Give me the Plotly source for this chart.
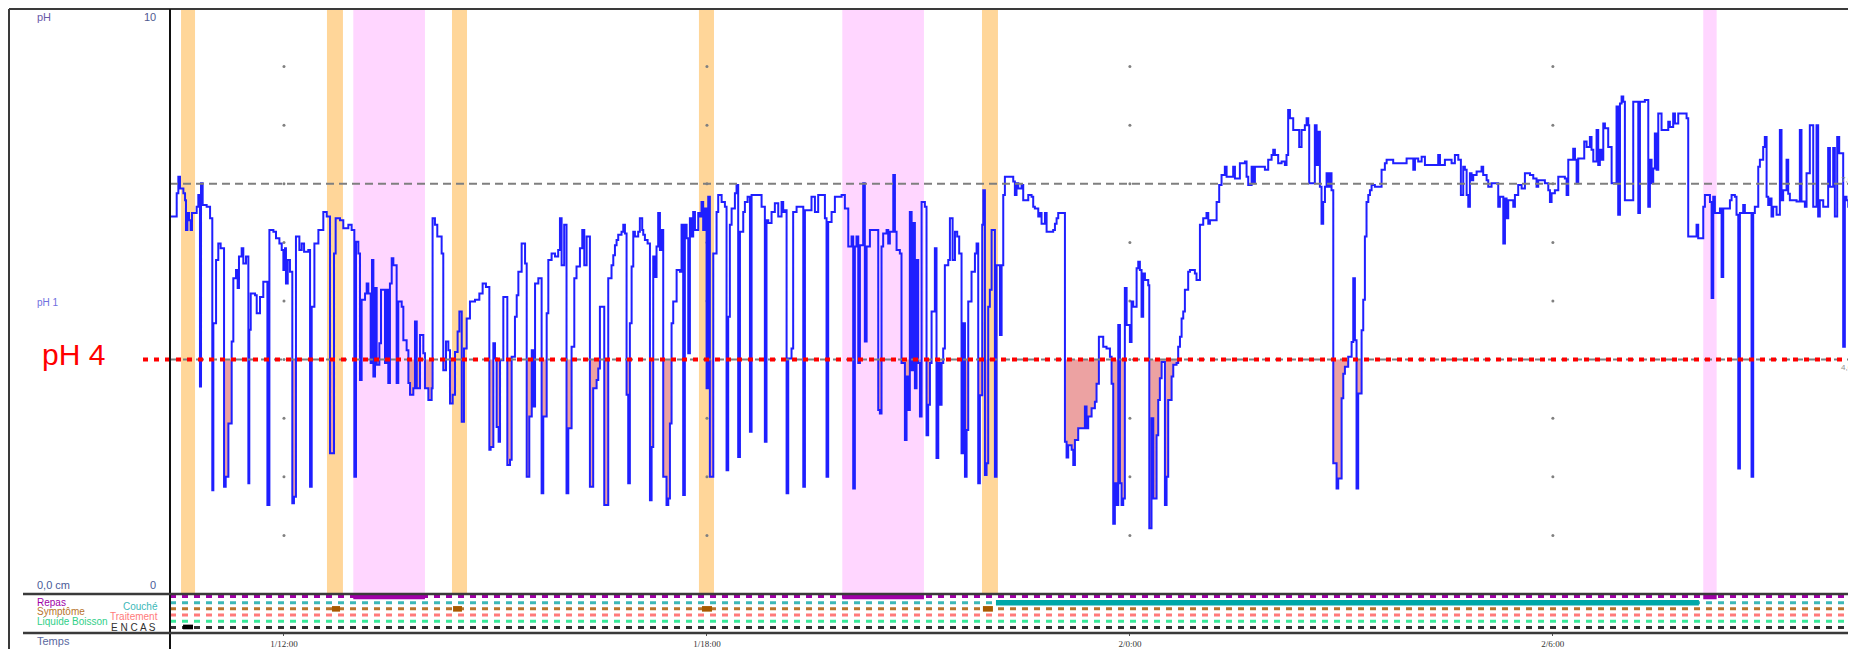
import plotly.graph_objects as go

W, H = 1856, 649
OFF = 8  # page body margin of the browser
FW, FH = W - OFF, H - OFF

# ---------------- DATA ----------------
# pH trace: (minutes after 1/10:00, pH value)
PH_SEG_A = [(23, 6.44), (28.7, 6.84), (30.1, 7.12), (31.5, 6.92), (34.4, 6.84), (35.8, 6.72), (36.6, 6.21),
            (37.8, 6.50), (39.2, 6.38), (40.6, 6.21), (41.7, 6.50), (45.7, 6.61), (47.1, 6.81), (48.5, 3.54),
            (49.4, 7.01), (50.8, 6.64), (54.2, 6.61), (57.1, 6.41), (59.0, 1.77), (59.9, 4.62), (62.2, 5.70),
            (64.1, 5.98), (66.1, 5.90), (69.0, 1.83), (70.4, 2.00), (72.7, 2.91), (75.5, 4.31), (76.9, 5.39),
            (79.2, 5.53), (80.6, 5.22), (81.7, 5.76), (84.0, 5.90), (85.4, 5.64), (87.7, 5.76), (89.7, 1.89),
            (90.5, 4.51), (91.7, 5.13), (95.4, 5.10), (96.8, 4.79), (99.6, 5.07), (102.4, 5.33), (105.9, 1.52),
            (107.6, 6.21), (111.0, 6.18), (113.2, 6.07), (116.1, 5.98), (118.1, 5.87), (119.5, 5.53), (120.9, 5.90),
            (121.7, 5.30), (123.2, 5.70), (125.1, 5.50), (127.1, 1.55), (128.5, 1.66), (130.2, 6.10), (133.1, 5.87),
            (135.1, 5.98), (137.1, 5.84), (140.7, 5.87), (142.2, 1.83), (143.6, 4.90), (145.9, 5.98), (149.3, 6.21),
            (153.5, 6.52), (156.4, 6.44), (159.2, 2.40), (162.6, 5.81), (164.0, 6.41), (167.7, 6.38), (170.5, 6.24),
            (174.8, 6.30), (177.6, 6.21), (179.9, 2.00), (181.3, 6.01), (183.3, 5.81), (184.7, 3.65), (186.1, 5.02),
            (189.0, 5.13), (190.4, 5.30), (191.8, 5.13), (193.8, 3.94), (194.9, 5.70), (196.1, 3.71), (197.5, 5.22),
            (198.9, 3.91), (201.2, 4.28), (202.6, 5.19), (206.0, 3.94), (207.4, 5.19), (208.8, 3.60), (210.2, 5.30),
            (211.7, 5.73), (213.1, 5.61), (215.9, 3.60), (217.3, 4.99), (220.2, 4.90), (221.6, 4.33), (224.4, 4.16),
            (225.9, 3.60), (227.3, 3.40), (230.1, 3.51), (231.5, 4.65), (233.0, 3.51), (235.8, 4.42), (238.6, 4.11),
            (240.0, 3.51), (242.9, 3.31), (245.7, 3.51), (246.5, 6.41), (248.5, 6.30), (250.5, 6.10), (254.2, 5.81),
            (255.6, 3.82), (257.9, 4.31), (259.9, 4.16), (261.3, 3.25), (263.6, 3.40), (265.6, 4.13), (267.8, 4.48),
            (269.3, 4.82), (271.3, 2.94), (273.2, 4.19), (275.5, 4.70), (278.3, 4.99), (282.6, 5.02), (286.3, 5.13),
            (289.1, 5.30), (291.9, 5.24), (294.8, 2.46), (295.9, 2.51), (298.2, 4.28), (299.6, 4.02), (301.0, 2.85),
            (302.7, 2.60), (303.9, 3.99), (306.7, 5.07), (310.1, 2.20), (312.4, 2.29), (313.8, 4.05), (316.6, 4.73),
            (318.1, 5.10), (319.5, 5.50), (322.3, 5.98), (325.2, 5.64), (326.6, 2.00), (328.8, 3.03), (330.9, 4.16),
            (332.3, 3.20), (333.7, 5.30), (336.5, 5.39), (339.3, 1.72), (340.7, 3.03), (343.6, 4.79), (345.0, 5.70),
            (347.8, 5.81), (350.7, 5.76)]

PH_SEG_B = [(353.4, 5.87), (354.9, 6.41), (356.3, 5.61), (358.5, 6.30), (360.5, 1.72), (362.0, 2.83), (364.8, 4.22),
            (367.1, 5.39), (369.0, 5.59), (371.9, 5.90), (373.9, 6.21), (375.6, 5.61), (377.6, 6.10), (380.4, 1.83),
            (383.2, 3.51), (386.1, 3.65), (387.5, 3.85), (388.9, 4.90), (392.6, 1.52), (396.0, 5.39), (398.8, 5.61),
            (400.3, 5.78), (401.7, 5.95), (403.1, 6.04), (404.5, 6.13), (407.3, 6.18), (408.8, 6.30), (410.2, 6.15),
            (411.6, 3.40), (413.0, 1.89), (414.4, 4.62), (415.9, 5.59), (417.3, 6.18), (418.7, 6.10), (421.5, 6.18),
            (422.9, 6.41), (424.9, 6.21), (425.8, 6.13), (427.2, 6.04), (429.5, 5.98), (431.5, 1.60), (432.9, 2.51),
            (434.3, 5.76), (435.7, 5.41), (437.1, 5.93), (438.5, 6.50), (440.0, 5.87), (441.4, 6.21), (442.8, 2.00),
            (445.6, 1.52), (447.1, 1.63), (448.5, 2.91), (449.9, 4.62), (451.3, 4.99), (454.2, 5.53), (457.0, 5.50),
            (458.4, 6.30), (459.8, 1.69), (461.2, 6.30), (462.7, 6.07), (464.1, 4.11), (465.5, 6.41), (466.9, 6.10),
            (468.3, 6.52), (469.8, 6.21), (472.6, 6.50), (474.0, 6.44), (475.4, 6.69), (476.8, 6.21), (478.3, 6.58),
            (479.7, 3.51), (481.1, 6.78), (482.5, 2.00), (485.4, 5.81), (488.2, 6.52), (489.6, 6.81), (492.5, 6.69),
            (495.3, 6.61), (496.7, 2.11), (498.1, 4.73), (499.5, 6.30), (501.0, 6.58), (503.8, 6.84), (505.2, 6.98),
            (506.6, 2.34), (508.1, 6.18), (510.9, 6.52), (512.3, 6.69), (514.6, 6.78), (516.6, 2.77), (518.0, 6.81),
            (526.5, 6.61), (529.3, 2.60), (530.7, 6.38), (532.2, 6.33), (535.0, 6.52), (537.8, 6.67), (540.7, 6.44),
            (543.5, 6.69), (544.9, 6.52), (546.4, 6.55), (547.8, 1.72), (549.2, 4.02), (552.0, 4.19), (553.4, 6.52),
            (556.3, 6.61), (562.0, 1.83), (563.4, 6.55), (569.0, 6.78), (571.9, 6.52), (574.7, 6.81), (580.4, 6.41),
            (581.8, 2.00), (583.2, 6.35), (586.1, 6.52), (588.9, 6.78), (594.6, 6.81), (597.4, 6.58), (600.3, 5.93),
            (603.1, 6.10), (604.5, 1.80), (605.9, 5.93), (607.3, 6.10), (608.8, 3.94), (610.2, 5.95), (613.0, 7.01),
            (614.4, 4.31), (615.9, 5.93), (618.7, 6.21), (625.8, 3.14), (627.2, 3.08), (628.6, 5.93), (630.0, 6.15),
            (632.9, 6.21), (634.3, 5.98), (635.7, 6.18), (638.6, 7.15), (640.0, 6.18), (641.4, 5.87), (644.2, 5.81),
            (645.6, 3.94), (648.5, 2.63), (649.9, 3.71), (651.3, 3.14), (652.7, 6.52), (654.2, 3.82), (655.6, 6.33),
            (657.0, 3.51), (658.4, 5.70), (659.8, 3.94), (661.3, 3.03), (662.7, 6.69), (665.5, 6.61), (666.9, 2.71),
            (668.3, 3.23), (669.8, 3.94), (671.2, 4.82), (674.0, 5.90), (675.4, 2.32), (676.9, 3.94), (678.3, 3.23),
            (679.7, 3.94), (681.1, 4.19), (682.5, 5.61), (685.4, 5.70)]

PH_SEG_C = [(686.8, 6.41), (689.1, 5.70), (691.1, 6.18), (693.0, 6.10), (694.7, 5.81), (696.7, 2.40), (698.1, 4.62),
            (699.6, 2.00), (701.0, 2.80), (702.4, 4.99), (705.2, 5.50), (708.1, 5.81), (709.5, 5.98), (710.9, 1.89),
            (712.3, 3.39), (714.3, 6.30), (715.2, 6.89), (716.6, 2.03), (718.0, 2.23), (719.4, 4.90), (720.8, 5.19),
            (722.3, 6.21), (725.1, 2.00), (726.5, 5.61), (729.4, 4.42), (730.8, 5.61), (732.2, 6.81), (733.6, 7.12),
            (740.7, 7.04), (742.1, 6.81), (743.5, 7.01), (745.0, 6.92), (747.8, 6.98), (749.2, 6.72), (753.5, 6.81),
            (756.3, 6.78), (757.7, 6.61), (759.1, 6.58), (762.0, 6.44), (763.4, 6.50), (764.8, 6.32), (767.7, 6.50),
            (769.1, 6.18), (774.7, 6.21), (776.2, 6.32), (777.6, 6.41), (779.0, 6.50), (784.7, 2.60), (786.1, 2.33),
            (787.5, 2.54), (790.4, 2.46), (791.8, 2.20), (793.2, 2.63), (796.0, 2.83), (801.7, 3.20), (803.1, 2.83),
            (804.5, 3.03), (807.4, 3.17), (810.2, 3.28), (811.6, 3.59), (813.6, 4.39), (817.3, 4.22), (820.1, 4.19),
            (823.0, 4.05), (824.4, 3.59), (825.8, 1.20), (827.2, 1.89), (828.6, 1.52), (830.1, 4.59), (831.5, 1.89),
            (832.9, 1.52), (834.3, 1.63), (835.7, 5.22), (837.2, 4.59), (840.0, 4.30), (841.4, 4.99), (842.8, 4.90),
            (845.7, 5.56), (847.1, 5.67), (848.5, 5.53), (849.9, 4.73), (851.3, 5.47), (852.8, 5.36), (855.6, 5.27),
            (856.5, 1.12), (858.4, 3.00), (859.9, 1.63), (862.7, 2.71), (864.1, 3.31), (865.5, 3.68), (867.0, 3.96),
            (869.8, 1.52), (871.2, 2.00), (872.6, 3.31), (875.5, 3.71), (876.9, 3.91), (879.7, 3.94), (881.1, 4.22),
            (882.6, 4.39), (884.0, 4.70), (885.4, 4.82), (886.8, 5.19), (889.6, 5.50), (891.1, 5.53), (895.3, 5.47),
            (896.7, 5.36), (899.6, 6.30), (902.4, 6.41), (905.2, 6.50), (906.7, 6.32), (908.1, 6.38), (913.8, 6.69),
            (916.0, 6.98), (918.0, 7.15), (920.8, 7.29), (922.3, 7.12), (927.9, 7.29), (929.4, 7.09), (933.6, 7.35),
            (937.9, 7.38), (939.3, 7.12), (940.7, 6.98), (943.6, 7.29), (945.0, 7.01), (946.4, 7.29), (954.9, 7.24),
            (957.7, 7.41), (960.6, 7.49), (962.0, 7.58), (963.4, 7.49), (966.2, 7.35), (969.1, 7.38), (971.9, 7.32),
            (973.3, 7.49), (974.7, 8.26), (976.2, 8.12), (979.0, 7.92), (984.1, 7.63), (986.1, 7.92), (988.9, 8.00),
            (990.4, 8.12), (991.8, 8.00), (992.6, 7.01), (997.4, 8.00), (998.9, 7.32), (1000.3, 7.89), (1001.7, 6.95),
            (1003.1, 6.32), (1004.5, 6.69), (1006.0, 6.95), (1007.4, 7.18), (1008.8, 6.95), (1010.2, 7.18),
            (1011.6, 6.89), (1013.1, 2.23), (1015.9, 1.80), (1017.3, 1.97), (1020.2, 3.34), (1021.6, 3.76),
            (1023.0, 3.88)]

PH_SEG_D = [(1025.8, 4.05), (1028.7, 4.30), (1030.1, 5.39), (1031.5, 4.33), (1032.9, 1.80), (1034.3, 3.42),
            (1037.2, 4.50), (1038.6, 5.02), (1040.0, 6.10), (1041.4, 6.69), (1042.9, 6.81), (1044.3, 6.89),
            (1045.7, 6.98), (1048.5, 6.95), (1054.2, 7.24), (1057.0, 7.35), (1058.5, 7.41), (1064.1, 7.35),
            (1075.5, 7.43), (1081.2, 7.24), (1082.6, 7.43), (1085.4, 7.38), (1088.3, 7.46), (1091.1, 7.32),
            (1102.4, 7.49), (1103.9, 7.32), (1108.1, 7.41), (1113.8, 7.35), (1116.6, 7.49), (1119.5, 7.41),
            (1121.7, 6.81), (1123.7, 7.29), (1125.1, 7.24), (1126.6, 6.81), (1128.0, 6.61), (1129.4, 7.18),
            (1130.8, 7.06), (1132.2, 7.15), (1135.1, 7.21), (1139.3, 7.29), (1140.7, 7.15), (1143.6, 7.06),
            (1145.0, 6.95), (1147.8, 7.01), (1153.5, 6.61), (1154.9, 6.78), (1157.8, 5.98), (1159.2, 6.75),
            (1160.6, 6.41), (1162.0, 6.72), (1166.3, 6.61), (1167.7, 6.81), (1170.5, 6.98), (1173.4, 6.92),
            (1176.2, 7.18), (1180.5, 7.15), (1183.3, 7.09), (1186.1, 6.95), (1187.5, 7.06), (1193.2, 7.01),
            (1196.1, 6.89), (1197.5, 6.69), (1198.9, 6.84), (1201.7, 6.89), (1204.6, 7.12), (1210.2, 7.09),
            (1211.7, 6.81), (1213.1, 7.41), (1217.3, 7.60), (1218.8, 7.41), (1220.2, 7.01), (1221.6, 7.43),
            (1226.7, 7.72), (1228.7, 7.63), (1231.5, 7.80), (1232.9, 7.58), (1234.4, 7.38), (1237.2, 7.92),
            (1238.6, 7.32), (1240.0, 7.58), (1241.4, 7.41), (1242.9, 8.03), (1244.3, 7.95), (1247.1, 7.63),
            (1250.0, 7.01), (1254.2, 8.32), (1255.6, 6.47), (1257.1, 8.37), (1258.5, 8.49), (1259.9, 8.40),
            (1261.3, 6.72), (1268.4, 8.40), (1272.7, 6.50), (1274.1, 8.40), (1278.3, 8.43), (1281.2, 6.61),
            (1282.6, 7.41), (1284.0, 7.01), (1285.4, 7.26), (1286.8, 7.86), (1288.3, 7.24), (1289.7, 8.20),
            (1292.5, 7.92), (1298.2, 8.06), (1299.6, 7.97), (1302.4, 8.20), (1303.9, 8.03), (1306.7, 8.20),
            (1313.8, 8.12), (1315.2, 6.10), (1322.3, 6.30), (1323.7, 6.07), (1328.0, 6.61), (1329.4, 6.81),
            (1333.7, 6.69), (1335.1, 5.05), (1336.5, 6.78), (1337.9, 6.50), (1342.2, 6.58), (1343.6, 5.41),
            (1345.0, 6.58), (1350.7, 6.72), (1352.1, 6.81), (1354.9, 6.78), (1356.3, 6.47), (1357.8, 2.14),
            (1359.2, 6.50), (1362.0, 6.64)]

PH_SEG_E = [(1363.4, 6.50), (1369.1, 2.00), (1370.5, 6.50), (1371.9, 6.61), (1374.8, 7.29), (1376.2, 7.41),
            (1379.0, 7.63), (1380.4, 7.80), (1381.9, 6.78), (1383.3, 6.64), (1384.7, 6.75), (1386.1, 6.44),
            (1387.5, 6.61), (1390.4, 6.47), (1393.2, 7.92), (1394.6, 6.72), (1396.0, 6.89), (1398.9, 7.41),
            (1400.3, 6.83), (1401.7, 6.72), (1407.4, 6.70), (1410.2, 7.92), (1411.6, 6.70), (1414.5, 6.61),
            (1415.9, 7.18), (1418.7, 8.00), (1421.6, 6.61), (1424.4, 8.00), (1425.8, 6.44), (1427.2, 6.72),
            (1430.1, 6.61), (1434.3, 7.61), (1435.8, 6.95), (1438.6, 7.61), (1440.0, 6.44), (1442.0, 7.80),
            (1443.7, 7.52), (1447.1, 4.22), (1448.5, 6.78), (1449.9, 6.72), (1451.4, 6.61), (1452.8, 6.67),
            (1455.6, 6.72), (1458.0, 6.78)]

TIME_RANGE = [23, 1458]                      # minutes after 1/10:00
TICK_MIN = [120, 480, 840, 1200]
TICK_TEXT = ["1/12:00", "1/18:00", "2/0:00", "2/6:00"]
GRID_PH = [1, 2, 3, 4, 5, 6, 7, 8, 9]
PH_MAX = 10
PH_ACID = 4
PH_REF = 7

SYMPTOM_BANDS = [(32.4, 44.3), (156.6, 170.2), (263.0, 275.8), (473.2, 486.0), (714.1, 727.7)]
MEAL_BANDS = [(179.0, 240.0), (595.2, 664.7), (1328.0, 1339.4)]
SUPINE_PERIODS = [(726.0, 1324.3)]
SYMPTOM_MARKS = [(160.9, 167.7), (263.9, 271.5), (475.8, 484.3), (714.9, 723.4)]
SNACK_MARKS = [(34.1, 42.6)]

EVENT_ROWS = ["Repas", "Couché", "Symptôme", "Traitement", "Liquide Boisson", "ENCAS"]
ROW_COLORS = ["#a000a8", "#3cb8b8", "#b8742c", "#ff7a7a", "#38e898", "#303030"]

# ---------------- FIGURE ----------------
trace = PH_SEG_A + PH_SEG_B + PH_SEG_C + PH_SEG_D + PH_SEG_E
T = [p[0] for p in trace]
PH = [p[1] for p in trace]
PH_LOW = [min(v, PH_ACID) for v in PH]


def px(x):
    return (x - OFF) / FW


def py(y):
    return 1 - (y - OFF) / FH


fig = go.Figure()

# acid-exposure fill (between pH 4 and trace when below 4)
fig.add_trace(go.Scatter(x=T, y=[PH_ACID] * len(T), mode="lines", line=dict(width=0, shape="hv"),
                         hoverinfo="skip", xaxis="x", yaxis="y"))
fig.add_trace(go.Scatter(x=T, y=PH_LOW, mode="lines", line=dict(width=0, shape="hv"),
                         fill="tonexty", fillcolor="#eca2a2", hoverinfo="skip", xaxis="x", yaxis="y"))

# grid dots
gx, gy = [], []
for t in TICK_MIN:
    for g in GRID_PH:
        gx.append(t)
        gy.append(g)
fig.add_trace(go.Scatter(x=gx, y=gy, mode="markers", marker=dict(size=3, color="#808080"),
                         hoverinfo="skip", xaxis="x", yaxis="y"))

# pH trace
fig.add_trace(go.Scatter(x=T, y=PH, mode="lines", line=dict(color="#1f1fff", width=2, shape="hv"),
                         name="pH 1", xaxis="x", yaxis="y"))

# event rows (dashed baselines)
for i, (name, col) in enumerate(zip(EVENT_ROWS, ROW_COLORS)):
    fig.add_trace(go.Scatter(x=TIME_RANGE, y=[i, i], mode="lines",
                             line=dict(color=col, width=3, dash="6px,6px"),
                             hoverinfo="skip", xaxis="x", yaxis="y2"))

shapes = []
# background bands in pH panel
for a, b in SYMPTOM_BANDS:
    shapes.append(dict(type="rect", xref="x", yref="y", x0=a, x1=b, y0=0, y1=PH_MAX,
                       fillcolor="#ffd699", line=dict(width=0), layer="below"))
for a, b in MEAL_BANDS:
    shapes.append(dict(type="rect", xref="x", yref="y", x0=a, x1=b, y0=0, y1=PH_MAX,
                       fillcolor="#ffd6ff", line=dict(width=0), layer="below"))

# event bars
for a, b in MEAL_BANDS:
    shapes.append(dict(type="rect", xref="x", yref="y2", x0=a, x1=b, y0=-0.4, y1=0.45,
                       fillcolor="#a000a8", line=dict(width=0)))
for a, b in SUPINE_PERIODS:
    shapes.append(dict(type="rect", xref="x", yref="y2", x0=a, x1=b, y0=0.55, y1=1.45,
                       fillcolor="#00a8a8", line=dict(width=0)))
for a, b in SYMPTOM_MARKS:
    shapes.append(dict(type="rect", xref="x", yref="y2", x0=a, x1=b, y0=1.55, y1=2.45,
                       fillcolor="#a85a00", line=dict(width=0)))
for a, b in SNACK_MARKS:
    shapes.append(dict(type="rect", xref="x", yref="y2", x0=a, x1=b, y0=4.55, y1=5.3,
                       fillcolor="#000000", line=dict(width=0)))

# reference lines
shapes.append(dict(type="line", xref="paper", yref="y", x0=px(170), x1=1, y0=PH_REF, y1=PH_REF,
                   line=dict(color="#7f7f7f", width=2, dash="8px,5px")))
shapes.append(dict(type="line", xref="paper", yref="y", x0=px(170), x1=1, y0=PH_ACID, y1=PH_ACID,
                   line=dict(color="#7f7f7f", width=2, dash="8px,5px")))
shapes.append(dict(type="line", xref="paper", yref="y", x0=px(143), x1=1, y0=PH_ACID, y1=PH_ACID,
                   line=dict(color="#ff0000", width=4, dash="5px,6px")))

# frame lines
BORDER = "#3a3a3a"
shapes.append(dict(type="line", xref="paper", yref="paper", x0=px(9), x1=1, y0=py(9), y1=py(9),
                   line=dict(color=BORDER, width=2)))
shapes.append(dict(type="line", xref="paper", yref="paper", x0=px(9), x1=px(9), y0=py(9), y1=0,
                   line=dict(color=BORDER, width=2)))
shapes.append(dict(type="line", xref="paper", yref="paper", x0=px(170), x1=px(170), y0=py(9), y1=0,
                   line=dict(color="#111111", width=2)))
shapes.append(dict(type="line", xref="paper", yref="paper", x0=px(23), x1=1, y0=py(594), y1=py(594),
                   line=dict(color=BORDER, width=2.5)))
shapes.append(dict(type="line", xref="paper", yref="paper", x0=px(23), x1=1, y0=py(633), y1=py(633),
                   line=dict(color=BORDER, width=2.5)))

annotations = []


def label(text, x, y, color, size=10, anchor="left", family="Liberation Sans, Arial"):
    annotations.append(dict(text=text, xref="paper", yref="paper", x=px(x), y=py(y),
                            xanchor=anchor, yanchor="middle", showarrow=False,
                            font=dict(size=size, color=color, family=family)))


label("pH", 35, 17, "#6a5aa8", 11)
label("10", 158, 17, "#505890", 11, anchor="right")
label("pH 1", 35, 302, "#6f6fe0", 10)
label("0,0 cm", 35, 585, "#4a5a98", 11)
label("0", 158, 585, "#4a5a98", 11, anchor="right")
label("Repas", 35, 602, ROW_COLORS[0], 10)
label("Couché", 160, 606, ROW_COLORS[1], 10, anchor="right")
label("Symptôme", 35, 611, ROW_COLORS[2], 10)
label("Traitement", 160, 616, ROW_COLORS[3], 10, anchor="right")
label("Liquide Boisson", 35, 621, "#30d088", 10)
label("E N C A S", 158, 627, "#303030", 10, anchor="right")
label("Temps", 35, 641, "#5a68a0", 11)
label("pH 4", 40, 354, "#ff0000", 30)
label("7,0", 1855, 179, "#909090", 8, anchor="right")
label("4,0", 1855, 367, "#909090", 8, anchor="right")

fig.update_layout(
    width=FW, height=FH,
    margin=dict(l=0, r=0, t=0, b=0),
    paper_bgcolor="white", plot_bgcolor="white",
    showlegend=False,
    shapes=shapes, annotations=annotations,
    xaxis=dict(domain=[px(170), 1], range=TIME_RANGE, anchor="y2",
               tickvals=TICK_MIN, ticktext=TICK_TEXT, ticks="outside", ticklen=2,
               tickcolor="#555555", tickfont=dict(size=9, color="#333333", family="Liberation Serif, Times New Roman"),
               showgrid=False, zeroline=False, showline=False, automargin=False, fixedrange=True),
    yaxis=dict(domain=[py(594), py(8)], range=[0, PH_MAX], showticklabels=False, showgrid=False,
               zeroline=False, showline=False, ticks="", automargin=False, fixedrange=True),
    yaxis2=dict(domain=[py(633), py(594)], range=[5.9, -0.4], showticklabels=False, showgrid=False,
                zeroline=False, showline=False, ticks="", automargin=False, fixedrange=True),
)

fig.write_html("out.html")
